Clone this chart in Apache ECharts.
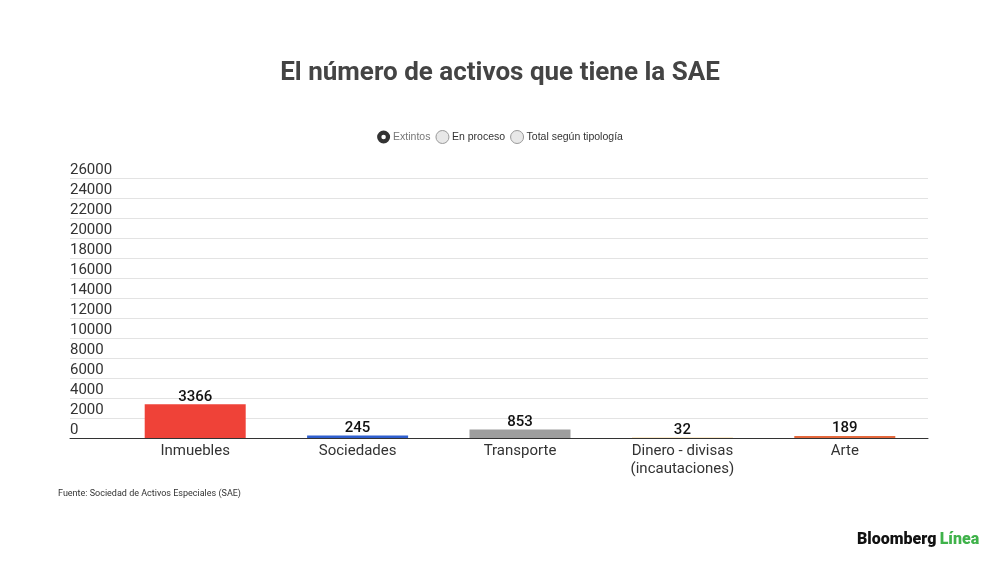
<!DOCTYPE html>
<html>
<head>
<meta charset="utf-8">
<script src="https://cdn.jsdelivr.net/npm/echarts@6/dist/echarts.min.js"></script>
<style>
html,body{margin:0;padding:0;background:#fff;}
#chart{width:1000px;height:562px;}
</style>
</head>
<body>
<div id="chart"></div>
<script>
const categories = ['Inmuebles', 'Sociedades', 'Transporte', 'Dinero - divisas\n(incautaciones)', 'Arte'];
const extintos = [3366, 245, 853, 32, 189];
const barColors = ['#ef4238', '#2f5fcf', '#9e9e9e', '#f2b134', '#e5683c'];
const legendNames = ['Extintos', 'En proceso', 'Total según tipología'];
const yTicks = { min: 0, max: 26000, interval: 2000 };

const chart = echarts.init(document.getElementById('chart'));
const selIcon = 'path://M10,0 A10,10 0 1,1 10,20 A10,10 0 1,1 10,0 Z M10,6.5 A3.5,3.5 0 1,0 10,13.5 A3.5,3.5 0 1,0 10,6.5 Z';

chart.setOption({
  backgroundColor: '#ffffff',
  animation: false,
  title: {
    text: 'El número de activos que tiene la SAE',
    left: 'center',
    top: 55,
    textStyle: { fontFamily: 'Roboto', fontWeight: 'bold', fontSize: 26, color: '#444444' }
  },
  legend: {
    top: 125,
    left: 'center',
    selectedMode: false,
    itemWidth: 13,
    itemHeight: 13,
    itemGap: 5,
    textStyle: { fontFamily: 'Liberation Sans, Arial', fontSize: 10.5, color: '#333333', padding: [0, 0, 0, -2] },
    data: [
      { name: legendNames[0], icon: selIcon, itemStyle: { color: '#333333', borderWidth: 0 }, textStyle: { color: '#777777' } },
      { name: legendNames[1], icon: 'circle', itemStyle: { color: '#e8e8e8', borderColor: '#9a9a9a', borderWidth: 1 } },
      { name: legendNames[2], icon: 'circle', itemStyle: { color: '#e8e8e8', borderColor: '#9a9a9a', borderWidth: 1 } }
    ]
  },
  graphic: [
    {
      type: 'text', left: 58, top: 489,
      style: { text: 'Fuente: Sociedad de Activos Especiales (SAE)', fontFamily: 'Roboto', fontSize: 9, fill: '#333333' }
    },
    {
      type: 'text', left: 857, top: 532,
      style: {
        text: '{a|Bloomberg} {b|Línea}',
        rich: {
          a: { fontFamily: 'Roboto', fontWeight: 900, fontSize: 16, fill: '#111111', color: '#111111' },
          b: { fontFamily: 'Roboto', fontWeight: 900, fontSize: 16, fill: '#3fb24a', color: '#3fb24a' }
        }
      }
    }
  ],
  grid: [
    { left: 70, right: 72, top: 178, bottom: 124 },
    { left: 114, right: 74, top: 178, bottom: 124 }
  ],
  xAxis: [
    {
      type: 'category', gridIndex: 0, data: categories,
      axisLine: { show: true, lineStyle: { color: '#333333', width: 1 } },
      axisTick: { show: false }, axisLabel: { show: false }
    },
    {
      type: 'category', gridIndex: 1, data: categories,
      axisLine: { show: false }, axisTick: { show: false },
      axisLabel: {
        interval: 0, margin: 4, fontFamily: 'Roboto', fontSize: 15, color: '#333333', lineHeight: 18
      }
    }
  ],
  yAxis: [
    {
      type: 'value', gridIndex: 0, min: yTicks.min, max: yTicks.max, interval: yTicks.interval,
      axisLine: { show: false }, axisTick: { show: false },
      splitLine: { show: true, lineStyle: { color: '#e3e3e3', width: 1 } },
      axisLabel: {
        inside: true, align: 'left', verticalAlign: 'bottom', margin: 0,
        padding: [0, 0, 0, 0],
        formatter: v => String(v),
        fontFamily: 'Roboto', fontSize: 15, color: '#333333'
      }
    },
    {
      type: 'value', gridIndex: 1, min: yTicks.min, max: yTicks.max, interval: yTicks.interval,
      show: false, splitLine: { show: false }
    }
  ],
  series: [
    {
      name: legendNames[0], type: 'bar', xAxisIndex: 1, yAxisIndex: 1,
      barWidth: 101,
      data: extintos.map((v, i) => ({ value: v, itemStyle: { color: barColors[i] } })),
      label: {
        show: true, position: 'top', distance: 0,
        fontFamily: 'Roboto', fontWeight: 500, fontSize: 15, color: '#111111'
      }
    },
    { name: legendNames[1], type: 'line', xAxisIndex: 1, yAxisIndex: 1, data: [] },
    { name: legendNames[2], type: 'line', xAxisIndex: 1, yAxisIndex: 1, data: [] }
  ]
});
</script>
</body>
</html>
